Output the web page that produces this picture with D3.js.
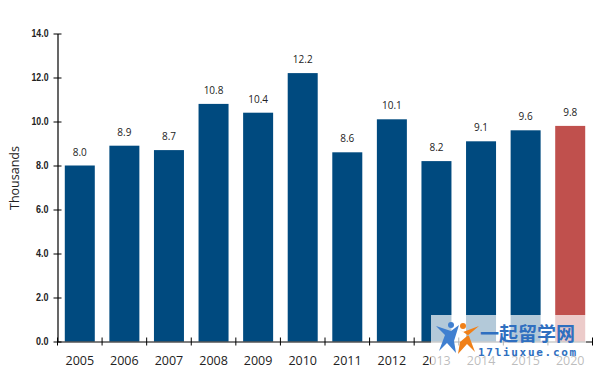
<!DOCTYPE html>
<html>
<head>
<meta charset="utf-8">
<script src="https://cdnjs.cloudflare.com/ajax/libs/d3/7.8.5/d3.min.js"></script>
<style>
html, body { margin: 0; padding: 0; background: #fff; }
svg { display: block; }
</style>
</head>
<body>
<div id="chart"></div>
<script>
// ==========================
// Data
// ==========================
const years = ["2005", "2006", "2007", "2008", "2009", "2010", "2011", "2012", "2013", "2014", "2015", "2020"];
const values = [8.0, 8.9, 8.7, 10.8, 10.4, 12.2, 8.6, 10.1, 8.2, 9.1, 9.6, 9.8];
const yTicks = [0, 2, 4, 6, 8, 10, 12, 14];
const forecastYear = "2020";

// ==========================
// Constants & Dimensions
// ==========================
const width = 596;
const height = 372;
const left = 57.5;
const right = 592.5;
const top_ = 33.5;
const bottom = 341.5;

const svg = d3.select("#chart")
    .append("svg")
    .attr("width", width)
    .attr("height", height);

const x = d3.scaleBand().domain(years).range([left, right]).padding(0);
const y = d3.scaleLinear().domain([0, 14]).range([bottom, top_]);
const barWidth = 30;

// ==========================
// Bars & value labels
// ==========================
svg.selectAll(".bar")
    .data(years)
    .enter()
    .append("rect")
    .attr("class", "bar")
    .attr("x", d => x(d) + (x.bandwidth() - barWidth) / 2)
    .attr("y", (d, i) => y(values[i]))
    .attr("width", barWidth)
    .attr("height", (d, i) => bottom - y(values[i]))
    .attr("fill", d => d === forecastYear ? "#c0504d" : "#004a7f");

svg.selectAll(".value")
    .data(years)
    .enter()
    .append("text")
    .attr("class", "value")
    .attr("x", d => x(d) + x.bandwidth() / 2)
    .attr("y", (d, i) => y(values[i]) - 10)
    .attr("text-anchor", "middle")
    .attr("font-family", "'Open Sans', sans-serif")
    .attr("font-size", 10)
    .attr("fill", "#222")
    .text((d, i) => values[i].toFixed(1));

// ==========================
// Axes
// ==========================
const yAxis = svg.append("g")
    .attr("transform", `translate(${left},0)`)
    .call(d3.axisLeft(y).tickValues(yTicks).tickFormat(d3.format(".1f")).tickSize(3).tickSizeOuter(0));
yAxis.selectAll(".tick line").attr("x2", 4).attr("x1", -4).attr("stroke", "#000");
yAxis.select(".domain").attr("stroke", "#000").attr("stroke-width", 1.2);
// narrow bold labels: squeeze them, no condensed face is installed
yAxis.selectAll("text")
    .attr("x", -9)
    .attr("font-family", "'Liberation Sans', sans-serif")
    .attr("font-weight", "bold")
    .attr("font-size", 10.5)
    .attr("fill", "#222")
    .attr("textLength", d => d >= 10 ? 17 : 12.5)
    .attr("lengthAdjust", "spacingAndGlyphs");

const xAxis = svg.append("g")
    .attr("transform", `translate(0,${bottom})`)
    .call(d3.axisBottom(x).tickSize(0));
xAxis.select(".domain").attr("stroke", "#000").attr("stroke-width", 1.2);
xAxis.selectAll("text")
    .attr("dy", 0)
    .attr("y", 23)
    .attr("font-family", "'Open Sans', sans-serif")
    .attr("font-size", 12.5)
    .attr("fill", "#222");

// ticks sit on the band edges, not the band centres
xAxis.selectAll(".edge")
    .data(years.concat("end"))
    .enter()
    .append("line")
    .attr("class", "edge")
    .attr("x1", (d, i) => i === years.length ? right : x(d))
    .attr("x2", (d, i) => i === years.length ? right : x(d))
    .attr("y1", -4)
    .attr("y2", 4)
    .attr("stroke", "#000");

// Axis title
svg.append("text")
    .attr("transform", "translate(19,178) rotate(-90)")
    .attr("text-anchor", "middle")
    .attr("font-family", "'Open Sans', sans-serif")
    .attr("font-size", 12.5)
    .attr("fill", "#222")
    .text("Thousands");

// ==========================
// Watermark
// ==========================
const mark = svg.append("g");
mark.append("rect")
    .attr("x", 431)
    .attr("y", 315)
    .attr("width", 155)
    .attr("height", 52)
    .attr("fill", "#fff")
    .attr("opacity", 0.7);

const figures = [
    { color: "#3f7fd0", dx: 447, dy: 322, lean: 1 },
    { color: "#f08018", dx: 467, dy: 323, lean: -1 }
];
figures.forEach(f => {
    mark.append("circle")
        .attr("cx", f.dx + 4 * f.lean)
        .attr("cy", f.dy + 3)
        .attr("r", 3)
        .attr("fill", f.color);
    mark.append("path")
        .attr("d", `M${f.dx - 11},${f.dy + 4} L${f.dx + 4 * f.lean},${f.dy + 9} L${f.dx + 12},${f.dy + 3} L${f.dx + 7 * f.lean},${f.dy + 19} L${f.dx + 9 * f.lean},${f.dy + 31} L${f.dx},${f.dy + 21} L${f.dx - 8 * f.lean},${f.dy + 29} L${f.dx - 2 * f.lean},${f.dy + 13} Z`)
        .attr("fill", f.color);
});

mark.append("text")
    .attr("x", 480)
    .attr("y", 341)
    .attr("font-family", "'Noto Sans CJK SC', sans-serif")
    .attr("font-weight", "bold")
    .attr("font-size", 19)
    .attr("fill", "#2f6fc0")
    .text("一起留学网");

mark.append("text")
    .attr("x", 478)
    .attr("y", 356)
    .attr("font-family", "'DejaVu Sans Mono', monospace")
    .attr("font-weight", "bold")
    .attr("font-size", 11)
    .attr("letter-spacing", 1.7)
    .attr("fill", "#2f6fc0")
    .text("17liuxue.com");
</script>
</body>
</html>
